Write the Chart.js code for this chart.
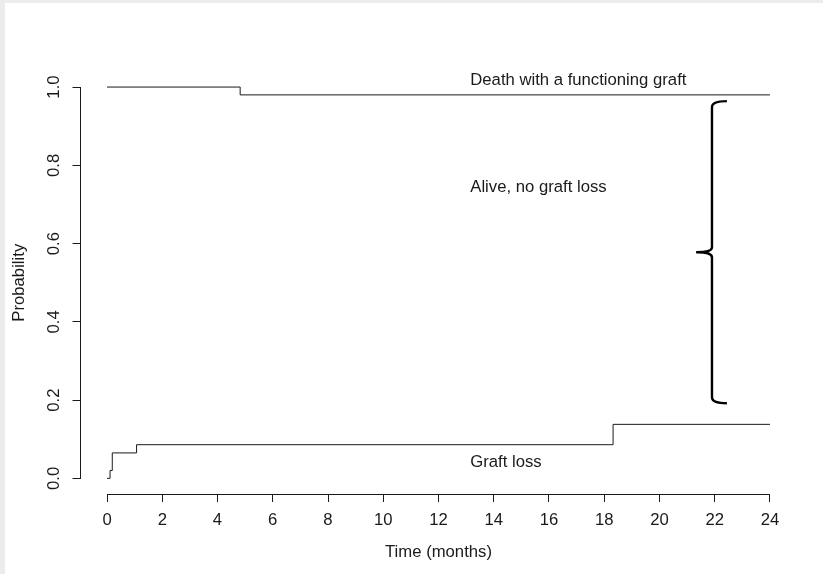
<!DOCTYPE html>
<html>
<head>
<meta charset="utf-8">
<script src="https://cdn.jsdelivr.net/npm/chart.js@4/dist/chart.umd.min.js"></script>
<style>
  body { margin: 0; background: #ececec; }
  #wrap { position: absolute; left: 5px; top: 3px; width: 818px; height: 571px; background: #fff; }
</style>
</head>
<body>
<div id="wrap"><canvas id="grafico" width="818" height="571"></canvas></div>
<script>
// curvas de incidência acumulada (meses x probabilidade)
const deathTimes = [0, 4.82, 24]
const deathProb = [1.0, 0.98, 0.98]

const graftTimes = [0, 0.11, 0.19, 1.07, 18.32, 24]
const graftProb = [0, 0.02, 0.065, 0.086, 0.138, 0.138]

const xTicks = [0, 2, 4, 6, 8, 10, 12, 14, 16, 18, 20, 22, 24]
const yTicks = [0, 0.2, 0.4, 0.6, 0.8, 1.0]

const labelTexts = ['Death with a functioning graft', 'Alive, no graft loss', 'Graft loss']
const labelX = [13.15, 13.15, 13.15]
const labelY = [1.016, 0.744, 0.042]

// chave: x da haste, x das pontas, x do bico, y topo / meio / base
const brace = { x: 21.9, tipX: 22.44, cuspX: 21.36, top: 0.964, mid: 0.578, bottom: 0.192 }

const FONT = 'Liberation Sans, Arial, sans-serif'
const SIZE = 16.7
const INK = '#1a1a1a'

const pontos = (xs, ys) => xs.map((t, i) => ({ x: t, y: ys[i] }))

// eixos no estilo do R: linha só do primeiro ao último tick, textos e chave
const extras = {
    id: 'extras',
    afterDraw(chart) {
        const { ctx, chartArea, scales } = chart
        const sx = scales.x
        const sy = scales.y
        ctx.save()
        ctx.lineWidth = 1
        ctx.strokeStyle = INK

        // eixo x
        const yb = Math.round(chartArea.bottom) + 0.5
        ctx.beginPath()
        ctx.moveTo(sx.getPixelForValue(xTicks[0]), yb)
        ctx.lineTo(sx.getPixelForValue(xTicks[xTicks.length - 1]), yb)
        ctx.stroke()

        // eixo y
        const xl = Math.round(chartArea.left) - 0.5
        ctx.beginPath()
        ctx.moveTo(xl, sy.getPixelForValue(yTicks[0]))
        ctx.lineTo(xl, sy.getPixelForValue(yTicks[yTicks.length - 1]))
        ctx.stroke()

        ctx.fillStyle = INK
        ctx.font = SIZE + 'px ' + FONT
        ctx.textAlign = 'left'
        ctx.textBaseline = 'middle'
        labelTexts.forEach((t, i) => {
            ctx.fillText(t, sx.getPixelForValue(labelX[i]), sy.getPixelForValue(labelY[i]))
        })

        // chave
        const bx = sx.getPixelForValue(brace.x)
        const tx = sx.getPixelForValue(brace.tipX)
        const cx = sx.getPixelForValue(brace.cuspX)
        const yt = sy.getPixelForValue(brace.top)
        const ym = sy.getPixelForValue(brace.mid)
        const yB = sy.getPixelForValue(brace.bottom)
        ctx.lineWidth = 2.4
        ctx.strokeStyle = '#000'
        ctx.lineJoin = 'round'
        ctx.beginPath()
        ctx.moveTo(tx, yt)
        ctx.quadraticCurveTo(bx, yt, bx, yt + 6)
        ctx.lineTo(bx, ym - 5)
        ctx.quadraticCurveTo(bx, ym, cx, ym)
        ctx.quadraticCurveTo(bx, ym, bx, ym + 5)
        ctx.lineTo(bx, yB - 6)
        ctx.quadraticCurveTo(bx, yB, tx, yB)
        ctx.stroke()
        ctx.restore()
    }
}

const linha = (xs, ys) => ({
    data: pontos(xs, ys),
    borderColor: INK,
    borderWidth: 1,
    pointRadius: 0,
    stepped: true,
    fill: false
})

const config = {
    type: 'line',
    data: {
        datasets: [linha(deathTimes, deathProb), linha(graftTimes, graftProb)]
    },
    options: {
        responsive: false,
        animation: false,
        layout: { padding: { left: 0, right: 26.5, top: 68.4, bottom: 0 } },
        plugins: { legend: { display: false }, tooltip: { enabled: false } },
        scales: {
            x: {
                type: 'linear',
                min: -0.96,
                max: 24.96,
                afterBuildTicks: s => { s.ticks = xTicks.map(v => ({ value: v })) },
                afterFit: s => { s.height = 80 },
                grid: { drawOnChartArea: false, tickLength: 8, color: INK },
                border: { display: false },
                ticks: {
                    autoSkip: false, maxRotation: 0, padding: 8, color: INK,
                    font: { family: FONT, size: SIZE },
                    callback: v => String(v)
                },
                title: {
                    display: true, text: 'Time (months)', color: INK,
                    font: { family: FONT, size: SIZE },
                    padding: { top: 0, bottom: 11.5 }
                }
            },
            y: {
                type: 'linear',
                min: -0.04,
                max: 1.04,
                afterBuildTicks: s => { s.ticks = yTicks.map(v => ({ value: v })) },
                afterFit: s => { s.width = 75.5 },
                grid: { drawOnChartArea: false, tickLength: 8, color: INK },
                border: { display: false },
                ticks: {
                    autoSkip: false, minRotation: 90, maxRotation: 90, crossAlign: 'center',
                    padding: 7, color: INK,
                    font: { family: FONT, size: SIZE },
                    callback: v => v.toFixed(1)
                },
                title: {
                    display: true, text: 'Probability', color: INK,
                    font: { family: FONT, size: SIZE },
                    padding: { top: 4.5, bottom: 0 }
                }
            }
        }
    },
    plugins: [extras]
}

const grafico = new Chart(document.getElementById('grafico'), config)
</script>
</body>
</html>
